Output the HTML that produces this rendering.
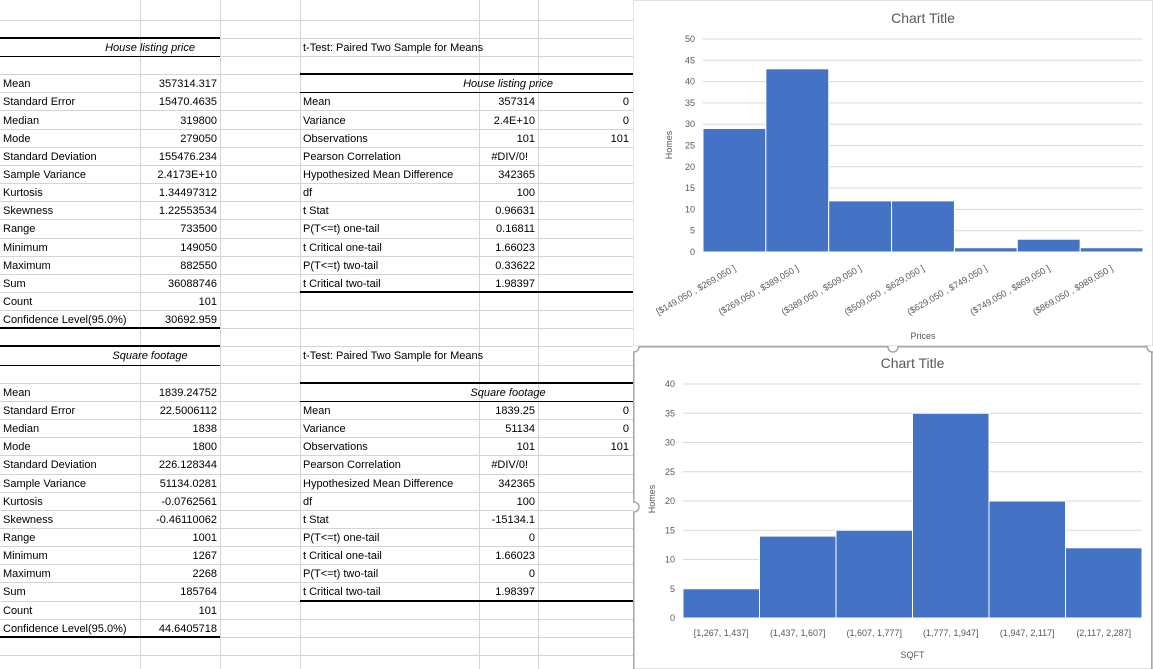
<!DOCTYPE html>
<html><head><meta charset="utf-8">
<style>
body{margin:0;width:1153px;height:669px;overflow:hidden;background:#fff;font-family:"Liberation Sans",sans-serif;position:relative}
.g{position:absolute;background:#d4d4d4}
.t{position:absolute;font-size:11px;color:#000;white-space:nowrap;line-height:18px;margin-top:1px}
.r{text-align:right}
.i{font-style:italic}
.k{position:absolute;background:#000}
svg{overflow:hidden}
svg text{font-family:"Liberation Sans",sans-serif}
</style></head><body>
<div id="sheet"></div>
<svg id="c1" style="position:absolute;left:633px;top:0" width="520" height="346"></svg>
<svg id="c2" style="position:absolute;left:633px;top:346px" width="520" height="323"></svg>
<script>
// chart data
const priceCats=["[$149,050 , $269,050 ]","($269,050 , $389,050 ]","($389,050 , $509,050 ]","($509,050 , $629,050 ]","($629,050 , $749,050 ]","($749,050 , $869,050 ]","($869,050 , $989,050 ]"];
const priceCounts=[29,43,12,12,1,3,1];
const priceTicks=[0,5,10,15,20,25,30,35,40,45,50];
const sqftCats=["[1,267, 1,437]","(1,437, 1,607]","(1,607, 1,777]","(1,777, 1,947]","(1,947, 2,117]","(2,117, 2,287]"];
const sqftCounts=[5,14,15,35,20,12];
const sqftTicks=[0,5,10,15,20,25,30,35,40];

const sheet=document.getElementById('sheet');
function rowTop(k){return 1.6+18.15*k;}
[140,220,300,479,538,633].forEach(x=>{
  const d=document.createElement('div');d.className='g';
  
  
  d.style.left=x+'px';d.style.top='0px';d.style.width='1px';d.style.height='669px';sheet.appendChild(d);
});
for(let k=1;k<37;k++){
  const d=document.createElement('div');d.className='g';
  
  
  d.style.left='0px';d.style.top=Math.round(rowTop(k))+'px';d.style.width='633px';d.style.height='1px';sheet.appendChild(d);
}
function rule(x,k,w,h){
  const d=document.createElement('div');d.className='k';
  
  
  d.style.left=x+'px';d.style.top=(Math.round(rowTop(k))-(h>1?1:0))+'px';d.style.width=w+'px';d.style.height=h+'px';sheet.appendChild(d);
}
function txt(s,x,k,opts){
  const d=document.createElement('div');d.className='t'+(opts||'');
  
  
  d.textContent=s;
  if((opts||'').includes('r')){d.style.right=(1153-x)+'px';}else{d.style.left=x+'px';}
  d.style.top=(rowTop(k))+'px';sheet.appendChild(d);
}
function ctext(s,cx,k){
  const d=document.createElement('div');d.className='t i';
  
  
  d.textContent=s;d.style.left=(cx-100)+'px';d.style.width='200px';d.style.textAlign='center';
  d.style.top=rowTop(k)+'px';sheet.appendChild(d);
}
const statLabels=["Mean","Standard Error","Median","Mode","Standard Deviation","Sample Variance","Kurtosis","Skewness","Range","Minimum","Maximum","Sum","Count","Confidence Level(95.0%)"];
const statA=["357314.317","15470.4635","319800","279050","155476.234","2.4173E+10","1.34497312","1.22553534","733500","149050","882550","36088746","101","30692.959"];
const statB=["1839.24752","22.5006112","1838","1800","226.128344","51134.0281","-0.0762561","-0.46110062","1001","1267","2268","185764","101","44.6405718"];
const tLabels=["Mean","Variance","Observations","Pearson Correlation","Hypothesized Mean Difference","df","t Stat","P(T<=t) one-tail","t Critical one-tail","P(T<=t) two-tail","t Critical two-tail"];
const tA=["357314","2.4E+10","101","#DIV/0!","342365","100","0.96631","0.16811","1.66023","0.33622","1.98397"];
const tB=["1839.25","51134","101","#DIV/0!","342365","100","-15134.1","0","1.66023","0","1.98397"];
const tC=["0","0","101"];
function block(base,hdr,stats,tvals){
  rule(0,base,220,2);ctext(hdr,150,base);rule(0,base+1,220,1);
  statLabels.forEach((l,i)=>{txt(l,3,base+2+i);txt(stats[i],217,base+2+i,' r');});
  rule(0,base+16,220,2);
  txt("t-Test: Paired Two Sample for Means",303,base);
  rule(300,base+2,333,2);ctext(hdr,508,base+2);rule(300,base+3,333,1);
  tLabels.forEach((l,i)=>{txt(l,303,base+3+i);const v=tvals[i];
    if(v==="#DIV/0!"){txt(v,528,base+3+i,' r');}else txt(v,535,base+3+i,' r');
    if(i<3)txt(tC[i],629,base+3+i,' r');});
  rule(300,base+14,333,2);
}
block(2,"House listing price",statA,tA);
block(19,"Square footage",statB,tB);

const NS='http://www.w3.org/2000/svg';
function el(svg,tag,attrs,text){const e=document.createElementNS(NS,tag);for(const a in attrs)e.setAttribute(a,attrs[a]);if(text!==undefined)e.textContent=text;svg.appendChild(e);return e;}
function drawChart(svg,cats,vals,ticks,L,R,T,B,titleY,rot,xTitle,xTitleY,yTitleX,yTitleY,xlabY){
  const W=svg.getAttribute('width'),H=svg.getAttribute('height');
  const bg=el(svg,'rect',{x:0.5,y:0.5,width:W-1,height:H-1,fill:'#fff',stroke:'#e3e3e3'});
  
  
  const t=el(svg,'text',{x:(L+R)/2,y:titleY,'text-anchor':'middle','font-size':14,fill:'#595959'},'Chart Title');
  
  
  const maxT=ticks[ticks.length-1];
  const y=v=>B-(v/maxT)*(B-T);
  ticks.forEach(v=>{
    const gl=el(svg,'line',{x1:L,x2:R,y1:y(v),y2:y(v),stroke:'#d9d9d9','stroke-width':1});
    
    
    const tl=el(svg,'text',{x:L-8,y:y(v)+3,'text-anchor':'end','font-size':9,fill:'#595959'},String(v));
    
    
  });
  const bw=(R-L)/cats.length;
  vals.forEach((v,i)=>{
    const b=el(svg,'rect',{x:L+i*bw,y:y(v),width:bw,height:B-y(v),fill:'#4472c4',stroke:'#fff','stroke-width':1});
    
    
    const cx=L+i*bw+bw/2;
    let lab;
    if(rot){lab=el(svg,'text',{x:cx+2,y:xlabY,'text-anchor':'end','font-size':9,fill:'#595959',transform:`rotate(-30 ${cx+2} ${xlabY})`},cats[i]);}
    else{lab=el(svg,'text',{x:cx,y:xlabY,'text-anchor':'middle','font-size':9,fill:'#595959'},cats[i]);}
    
    
  });
  const xt=el(svg,'text',{x:(L+R)/2,y:xTitleY,'text-anchor':'middle','font-size':9,fill:'#595959'},xTitle);
  
  
  const yt=el(svg,'text',{x:yTitleX,y:yTitleY,'text-anchor':'middle','font-size':9,fill:'#595959',transform:`rotate(-90 ${yTitleX} ${yTitleY})`},'Homes');
  
  
}
const c1=document.getElementById('c1'),c2=document.getElementById('c2');
drawChart(c1,priceCats,priceCounts,priceTicks,70,510,39,252,23,true,'Prices',339,39,145,270);
drawChart(c2,sqftCats,sqftCounts,sqftTicks,50,509,38,272,22,false,'SQFT',312,22,153,290);
const sel=el(c2,'rect',{x:0.75,y:0.75,width:518,height:340,fill:'none',stroke:'#a6a6a6','stroke-width':1.5});


[[1,1],[260,1],[519,1],[1,161]].forEach(p=>{
  const h=el(c2,'circle',{cx:p[0],cy:p[1],r:5,fill:'#fff',stroke:'#a6a6a6','stroke-width':1.5});
  
  
});
</script>
</body></html>
